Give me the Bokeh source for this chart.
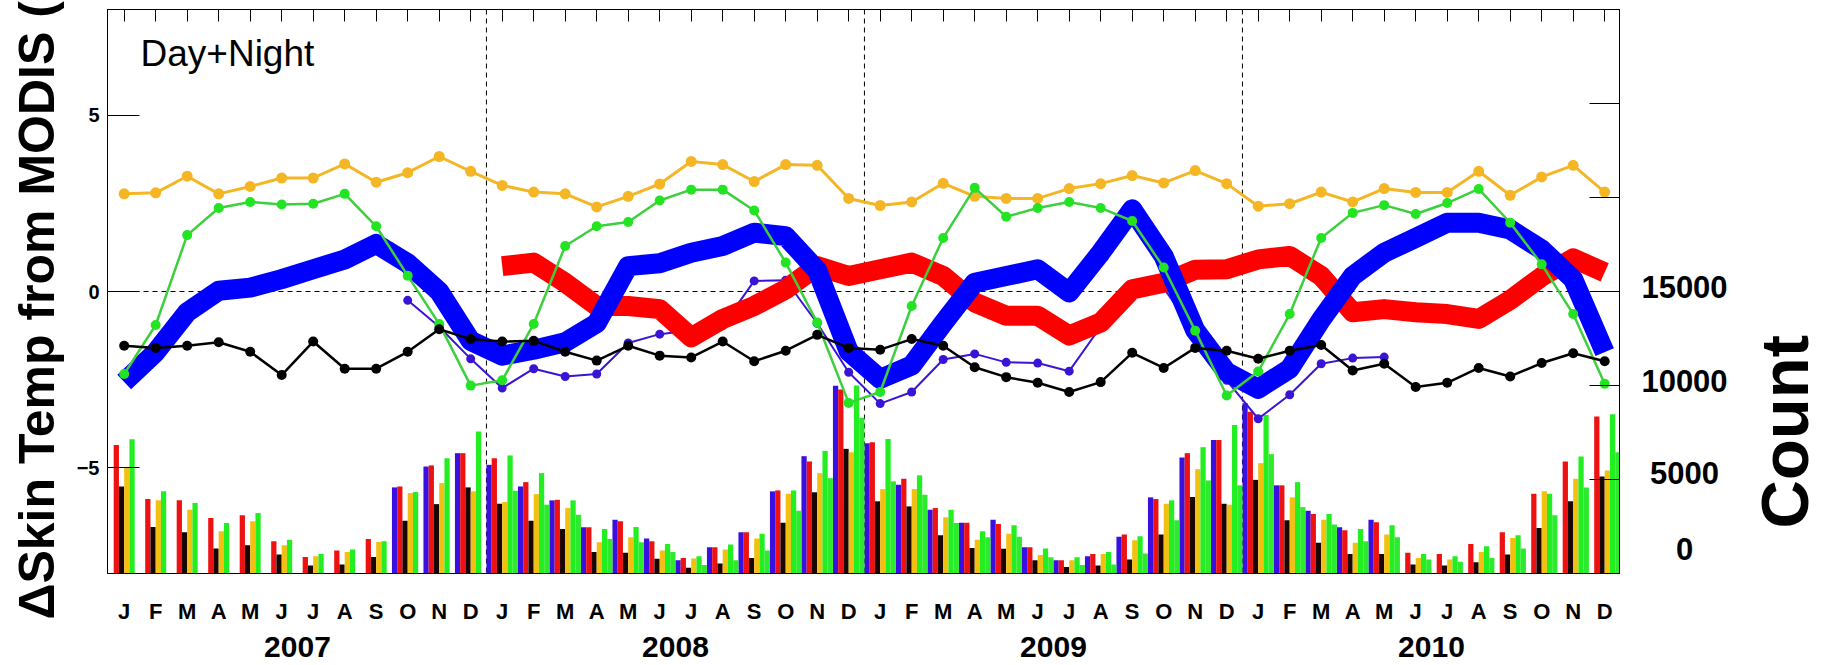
import numpy as np
from bokeh.plotting import figure
from bokeh.layouts import row, column
from bokeh.models import Range1d, LinearAxis, FixedTicker, Span, Label, ColumnDataSource
from bokeh.transform import dodge
from bokeh.core.properties import value
from bokeh.embed import file_html
from bokeh.resources import INLINE

NAN = float("nan")
FONT = "Liberation Sans"

# ---------------- data ----------------
MONTH_LETTERS = ["J", "F", "M", "A", "M", "J", "J", "A", "S", "O", "N", "D"]
YEARS = ["2007", "2008", "2009", "2010"]
MONTHS = list(range(48))

LEFT_TICKS = [-5, 0, 5]
RIGHT_TICKS = [0, 5000, 10000, 15000, 20000, 25000, 30000]
RIGHT_TICK_LABELS = [0, 5000, 10000, 15000]

gold = [2.77, 2.80, 3.27, 2.77, 2.98, 3.22, 3.22, 3.62, 3.10, 3.37, 3.83, 3.41,
        3.01, 2.82, 2.77, 2.40, 2.70, 3.05, 3.69, 3.60, 3.12, 3.60, 3.58, 2.64,
        2.44, 2.54, 3.07, 2.70, 2.64, 2.64, 2.92, 3.06, 3.29, 3.08, 3.43, 3.06,
        2.42, 2.49, 2.82, 2.54, 2.92, 2.81, 2.81, 3.41, 2.73, 3.25, 3.58, 2.82]

green = [-2.34, -0.95, 1.60, 2.37, 2.54, 2.47, 2.49, 2.77, 1.85, 0.45, -0.92, -2.67,
         -2.52, -0.92, 1.29, 1.85, 1.97, 2.58, 2.89, 2.89, 2.30, 0.82, -0.88, -3.16,
         -2.85, -0.41, 1.52, 2.94, 2.12, 2.37, 2.54, 2.37, 2.00, 0.68, -1.11, -2.95,
         -2.27, -0.64, 1.52, 2.23, 2.45, 2.20, 2.51, 2.91, 1.95, 0.77, -0.64, -2.62]

black = [-1.54, -1.60, -1.54, -1.44, -1.71, -2.37, -1.42, -2.19, -2.19, -1.71, -1.07, -1.35,
         -1.42, -1.40, -1.71, -1.96, -1.54, -1.82, -1.87, -1.42, -1.98, -1.68, -1.23, -1.60,
         -1.65, -1.35, -1.54, -2.15, -2.43, -2.59, -2.85, -2.57, -1.74, -2.17, -1.60, -1.68,
         -1.91, -1.68, -1.52, -2.24, -2.05, -2.71, -2.59, -2.17, -2.41, -2.03, -1.75, -1.98]

purple = [NAN] * 9 + [
    -0.25, -1.00, -1.91, -2.74, -2.19, -2.41, -2.34, -1.46, -1.21, -1.10, -0.97, 0.30,
    0.32, -0.90, -2.29, -3.18, -2.85, -1.93, -1.77, -2.01, -2.03, -2.26, -1.00, 0.00,
    0.10, -1.20, -2.52, -3.61, -2.93, -2.05, -1.89, -1.86] + [NAN] * 7

red_thick = [NAN] * 12 + [
    0.72, 0.82, 0.25, -0.41, -0.41, -0.50, -1.30, -0.78, -0.41, 0.06, 0.72, 0.44,
    0.63, 0.82, 0.44, -0.31, -0.69, -0.69, -1.25, -0.88, 0.06, 0.25, 0.62, 0.63,
    0.91, 1.01, 0.44, -0.59, -0.50, -0.59, -0.64, -0.78, -0.24, 0.42, 0.94, 0.54]

blue_thick = [-2.57, -1.72, -0.59, 0.02, 0.11, 0.35, 0.63, 0.91, 1.35, 0.80, 0.00, -1.40,
              -1.82, -1.65, -1.44, -0.90, 0.72, 0.80, 1.10, 1.29, 1.67, 1.57, 0.60, -1.70,
              -2.48, -2.10, -0.90, 0.25, 0.44, 0.63, -0.03, 1.10, 2.33, 1.00, -1.10, -2.29,
              -2.76, -2.19, -0.80, 0.44, 1.10, 1.52, 1.95, 1.95, 1.76, 1.19, 0.35, -1.72]

# monthly counts (right axis)
cnt_purple = [NAN] * 9 + [
    4580, 5690, 6400, 5780, 4630, 3890, 2460, 2860, 1860, 710, 1400, 2190,
    4370, 6240, 9990, 6930, 4720, 3390, 2700, 2860, 1400, 710, 920, 1950,
    4050, 6170, 7100, 9050, 4690, 3340, 2460, 2860] + [NAN] * 7
cnt_red = [6840, 3960, 3900, 2950, 3100, 1720, 880, 1220, 1840, 4630, 5750, 6400,
           6130, 4860, 3920, 2460, 2780, 1720, 830, 1400, 2190, 4420, 5960, 9790,
           6980, 5040, 3480, 2700, 2630, 1400, 710, 1040, 2070, 3960, 6400, 7100,
           8610, 4690, 3160, 2300, 2720, 1100, 1040, 1570, 2190, 4240, 5960, 8350]
cnt_black = [4630, 2475, 2190, 1330, 1500, 1010, 420, 480, 880, 2810, 3690, 4580,
             3710, 2810, 2370, 1150, 1100, 780, 300, 530, 830, 2700, 4320, 6630,
             3840, 3570, 2040, 1360, 1310, 710, 350, 420, 740, 2070, 4070, 3710,
             4980, 2830, 1630, 1040, 1040, 480, 420, 600, 1010, 2420, 3840, 5160]
cnt_orange = [5650, 3900, 3390, 2250, 2780, 1500, 920, 1150, 1680, 4280, 4810, 4370,
              3800, 4220, 3480, 1660, 1930, 1220, 800, 1270, 1860, 4240, 5340, 6450,
              4490, 4490, 2990, 1800, 2120, 980, 710, 1040, 1770, 3710, 5550, 3660,
              5870, 4050, 2860, 1630, 2070, 830, 740, 1150, 1890, 4370, 5040, 5480]
cnt_green = [7140, 4370, 3750, 2690, 3220, 1790, 1040, 1270, 1720, 4330, 6130, 7550,
             6280, 5340, 3890, 2370, 2480, 1570, 920, 1540, 2120, 4420, 6520, 10000,
             7160, 5220, 3390, 2250, 2570, 1330, 870, 1150, 1980, 3890, 6720, 7900,
             8430, 4860, 3160, 2370, 2570, 1040, 920, 1450, 2040, 4240, 6220, 8470]
cnt_green2 = [NAN] * 12 + [
    4400, 3660, 3130, 1840, 1660, 1150, 450, 710, 1220, 3340, 5070, 8290,
    4900, 4190, 2690, 1930, 1950, 870, 450, 480, 1060, 2830, 4950, 4690,
    6350, 3530, 2600, 1720, 1930, 740, 620, 830, 1330, 3100, 4580, 6450]

# ---------------- layout / styling ----------------
FULL_W, FULL_H = 1822, 664
L_W, R_W = 66, 191
MAIN_W = FULL_W - L_W - R_W
MAIN_H = 626
B_H = FULL_H - MAIN_H
BORDER_L, BORDER_R, BORDER_T, BORDER_B = 41, 12, 9, 50
FRAME_TOP = BORDER_T
FRAME_BOTTOM = MAIN_H - BORDER_B
FRAME_H = FRAME_BOTTOM - FRAME_TOP
YEAR_LABEL_ROW = 646

X0, X1 = -0.53, 47.47
Y0, Y1 = -8, 8
CMAX = 30000
GOLD = "#F4B625"
GREEN_LINE = "#3DCF3D"
GREEN_DOT = "#22E422"
PURPLE = "#3A14D6"
BAR_COLORS = ["#3A10E0", "#EE1111", "#1A0505", "#F2C010", "#22EE22", "#2EEA2E"]


def bare(fig):
    fig.xgrid.visible = False
    fig.ygrid.visible = False
    fig.outline_line_color = None
    fig.background_fill_color = "white"
    fig.border_fill_color = "white"
    return fig


p = figure(width=MAIN_W, height=MAIN_H, x_range=Range1d(X0, X1), y_range=Range1d(Y0, Y1),
           output_backend="svg", toolbar_location=None,
           x_axis_location=None, y_axis_location=None,
           min_border_left=BORDER_L, min_border_right=BORDER_R,
           min_border_top=BORDER_T, min_border_bottom=BORDER_B)
bare(p)
p.extra_y_ranges = {"count": Range1d(0, CMAX)}
p.outline_line_color = "black"
p.outline_line_width = 1

# axes
yax = LinearAxis(ticker=FixedTicker(ticks=LEFT_TICKS), major_tick_in=32, major_tick_out=0,
                 minor_tick_line_color=None, axis_line_color="black", major_tick_line_color="black",
                 major_label_text_font=FONT, major_label_text_font_size="20px",
                 major_label_text_font_style="bold", major_label_text_color="black",
                 major_label_standoff=8)
p.add_layout(yax, "left")

rax = LinearAxis(y_range_name="count", ticker=FixedTicker(ticks=RIGHT_TICKS),
                 major_tick_in=30, major_tick_out=0, minor_tick_line_color=None,
                 axis_line_color="black", major_tick_line_color="black",
                 major_label_overrides={t: "" for t in RIGHT_TICKS},
                 major_label_text_font_size="1px", major_label_standoff=0)
p.add_layout(rax, "right")

tax = LinearAxis(ticker=FixedTicker(ticks=MONTHS), major_tick_in=12, major_tick_out=0,
                 minor_tick_line_color=None, axis_line_color="black", major_tick_line_color="black",
                 major_label_overrides={m: "" for m in MONTHS},
                 major_label_text_font_size="1px", major_label_standoff=0)
p.add_layout(tax, "above")

bax = LinearAxis(ticker=FixedTicker(ticks=MONTHS), major_tick_in=0, major_tick_out=0,
                 minor_tick_line_color=None, axis_line_color="black",
                 major_label_overrides={m: MONTH_LETTERS[m % 12] for m in MONTHS},
                 major_label_text_font=FONT, major_label_text_font_size="22px",
                 major_label_text_font_style="bold", major_label_text_color="black",
                 major_label_standoff=25)
p.add_layout(bax, "below")

# reference lines
p.add_layout(Span(location=0, dimension="width", line_color="black", line_width=1,
                  line_dash="5 4", level="underlay"))
for k in range(1, len(YEARS)):
    p.add_layout(Span(location=12 * k - 0.5, dimension="height", line_color="black",
                      line_width=1, line_dash="5 4", level="underlay"))

# bars
src = ColumnDataSource(dict(m=MONTHS, p=cnt_purple, r=cnt_red, k=cnt_black,
                            o=cnt_orange, g=cnt_green, g2=cnt_green2))
cols = ["p", "r", "k", "o", "g", "g2"]
bw = 1.0 / 6
for i, (c, col) in enumerate(zip(cols, BAR_COLORS)):
    off = (i - 2.5) * bw
    p.vbar(x=dodge("m", off, range=p.x_range), top=c, bottom=0, width=bw, source=src,
           y_range_name="count", fill_color=col, line_color=None)

# purple thin (under the thick lines)
p.line(MONTHS, purple, line_color=PURPLE, line_width=2)
p.scatter(MONTHS, purple, size=9, fill_color=PURPLE, line_color=None)

# thick smoothed lines
p.line(MONTHS, red_thick, line_color="#FF0000", line_width=20, line_join="round")
p.line(MONTHS, blue_thick, line_color="#0000FF", line_width=20, line_join="round")

# thin series with dots
p.line(MONTHS, gold, line_color=GOLD, line_width=3)
p.scatter(MONTHS, gold, size=11, fill_color=GOLD, line_color=None)
p.line(MONTHS, green, line_color=GREEN_LINE, line_width=2.5)
p.scatter(MONTHS, green, size=10, fill_color=GREEN_DOT, line_color=None)
p.line(MONTHS, black, line_color="black", line_width=2.5)
p.scatter(MONTHS, black, size=10, fill_color="black", line_color=None)

p.add_layout(Label(x=X0, y=Y1, x_offset=33, y_offset=-44, text="Day+Night",
                   text_font=FONT, text_font_size="37px", text_color="black",
                   text_align="left", text_baseline="middle"))

# ---- bottom strip: year labels ----
b = figure(width=MAIN_W, height=B_H, x_range=p.x_range, y_range=Range1d(0, B_H),
           output_backend="svg", toolbar_location=None,
           x_axis_location=None, y_axis_location=None,
           min_border_left=BORDER_L, min_border_right=BORDER_R,
           min_border_top=0, min_border_bottom=0)
bare(b)
year_x = [float(np.mean(MONTHS[12 * i:12 * (i + 1)])) for i in range(len(YEARS))]
b.text(x=year_x, y=[B_H - (YEAR_LABEL_ROW - MAIN_H)] * len(YEARS), text=YEARS,
       text_font=value(FONT), text_font_size="30px", text_font_style="bold",
       text_color="black", text_align="center", text_baseline="middle")

# ---- left strip: rotated y title ----
lf = figure(width=L_W, height=FULL_H, x_range=Range1d(0, L_W), y_range=Range1d(0, FULL_H),
            output_backend="svg", toolbar_location=None,
            x_axis_location=None, y_axis_location=None, min_border=0)
bare(lf)
lf.text(x=[36], y=[FULL_H - 619], text=["\u0394Skin Temp from MODIS (K)"],
        angle=np.pi / 2, text_font=value(FONT), text_font_size="50px",
        text_font_style="bold", text_color="black",
        text_align="left", text_baseline="middle")

# ---- right strip: count tick labels and title ----
rf = figure(width=R_W, height=FULL_H, x_range=Range1d(0, R_W), y_range=Range1d(0, FULL_H),
            output_backend="svg", toolbar_location=None,
            x_axis_location=None, y_axis_location=None, min_border=0)
bare(rf)
RIGHT_LABEL_NUDGE = {0: 28, 5000: 9, 10000: 7, 15000: 6}
lab_y = [FULL_H - (FRAME_BOTTOM - t / CMAX * FRAME_H - RIGHT_LABEL_NUDGE[t]) for t in RIGHT_TICK_LABELS]
rf.text(x=[53] * len(RIGHT_TICK_LABELS), y=lab_y, text=[str(t) for t in RIGHT_TICK_LABELS],
        text_font=value(FONT), text_font_size="31px", text_font_style="bold",
        text_color="black", text_align="center", text_baseline="middle")
rf.text(x=[153], y=[FULL_H - 528], text=["Count"], angle=np.pi / 2,
        text_font=value(FONT), text_font_size="67px", text_font_style="bold",
        text_color="black", text_align="left", text_baseline="middle")

layout = row(lf, column(p, b), rf)
open("out.html", "w").write(file_html(layout, INLINE))
